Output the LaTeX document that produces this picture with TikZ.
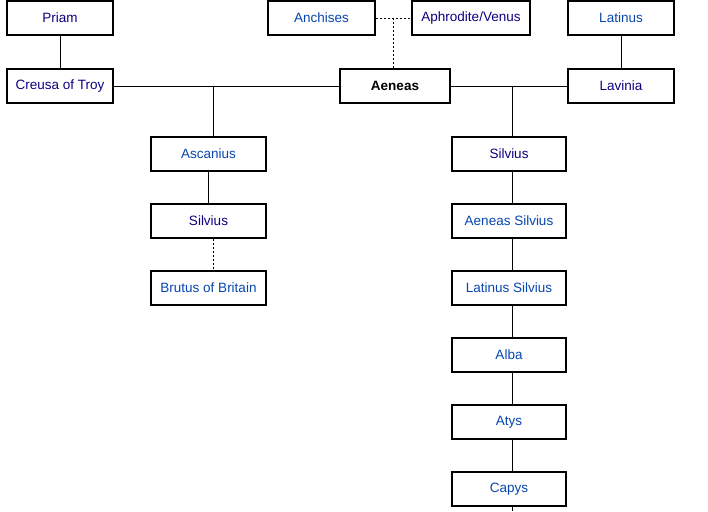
\documentclass[tikz,border=0pt]{standalone}
\usepackage{fontspec}
\setmainfont{Liberation Sans}
\definecolor{linkblue}{HTML}{0645AD}
\definecolor{visited}{HTML}{0B0080}
\begin{document}
\begin{tikzpicture}[x=1pt, y=-1pt, font=\fontsize{13.5}{15}\selectfont]
\tikzstyle{person}=[draw, line width=1.4pt, minimum height=34pt, inner sep=0pt, text=linkblue]
\tikzstyle{seen}=[person, text=visited]
\tikzstyle{line}=[line width=0.6pt]
\useasboundingbox (0,0) rectangle (708,511);
% generation of parents
\node[seen, minimum width=106pt] (priam) at (60,18) {Priam};
\node[person, minimum width=107pt] (anchises) at (321.5,18) {Anchises};
\node[seen, minimum width=118pt] (venus) at (471,18) {Aphrodite/Venus};
\node[person, minimum width=106pt] (latinus) at (621,18) {Latinus};
% Aeneas and wives
\node[seen, minimum width=106pt] (creusa) at (60,86) {Creusa of Troy};
\node[person, minimum width=110pt, text=black, font=\fontsize{13.5}{15}\selectfont\bfseries] (aeneas) at (395,86) {Aeneas};
\node[seen, minimum width=106pt] (lavinia) at (621,86) {Lavinia};
% line of Ascanius
\node[person, minimum width=115pt] (ascanius) at (208.5,154) {Ascanius};
\node[seen, minimum width=115pt] (silviusA) at (208.5,221) {Silvius};
\node[person, minimum width=115pt] (brutus) at (208.5,288) {Brutus of Britain};
% line of Silvius
\node[seen, minimum width=114pt] (silviusB) at (509,154) {Silvius};
\node[person, minimum width=114pt] (aeneasS) at (509,221) {Aeneas Silvius};
\node[person, minimum width=114pt] (latinusS) at (509,288) {Latinus Silvius};
\node[person, minimum width=114pt] (alba) at (509,355) {Alba};
\node[person, minimum width=114pt] (atys) at (509,422) {Atys};
\node[person, minimum width=114pt] (capys) at (509,489) {Capys};
\coordinate (top1) at (60,0);
\coordinate (top2) at (321.5,0);
\coordinate (bottom) at (512,511);
\coordinate (leftfork) at (213,86);
\coordinate (rightfork) at (512,86);
\coordinate (parents) at (393,18);
\draw[line] (priam) -- (top1);
\draw[line] (anchises) -- (top2);
\draw[line] (priam) -- (creusa);
\draw[line] (latinus) -- (lavinia);
\draw[line] (creusa) -- (aeneas);
\draw[line] (aeneas) -- (lavinia);
\draw[line, dashed, dash pattern=on 2pt off 2pt] (anchises) -- (venus);
\draw[line, dashed, dash pattern=on 2pt off 2pt] (parents) -- (aeneas.north -| parents);
\draw[line] (leftfork) -- (leftfork |- ascanius.north);
\draw[line] (ascanius) -- (silviusA);
\draw[line, dash pattern=on 2pt off 2pt] (silviusA.south -| leftfork) -- (brutus.north -| leftfork);
\draw[line] (rightfork) -- (rightfork |- silviusB.north);
\foreach \a/\b in {silviusB/aeneasS, aeneasS/latinusS, latinusS/alba, alba/atys, atys/capys}
  \draw[line] (\a.south -| rightfork) -- (\b.north -| rightfork);
\draw[line] (capys.south -| rightfork) -- (bottom);
\end{tikzpicture}
\end{document}
